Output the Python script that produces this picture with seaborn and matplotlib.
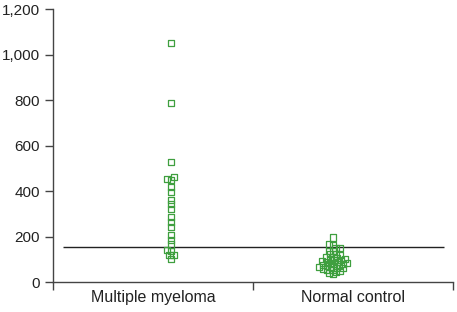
import numpy as np
import matplotlib
matplotlib.use("Agg")
import matplotlib.pyplot as plt
import seaborn as sns
import pandas as pd

# values
groups = ['Multiple myeloma', 'Normal control']
myeloma = [1050, 788, 529, 463, 452, 450, 418, 396, 360, 342, 320, 286, 265, 242,
           207, 186, 165, 140, 138, 120, 118, 102]
normal = [196, 165, 162, 150, 148, 138, 135, 125, 122, 118, 112, 108, 105, 102, 100,
          97, 95, 92, 90, 88, 85, 82, 80, 78, 75, 72, 70, 68, 65, 62, 60, 58, 55,
          52, 48, 45, 40, 35]
cutoff = 156
yticks = [0, 200, 400, 600, 800, 1000, 1200]

df = pd.DataFrame({
    'group': [groups[0]] * len(myeloma) + [groups[1]] * len(normal),
    'value': myeloma + normal,
})
df['pos'] = df['group'].map({groups[0]: 0, groups[1]: 1})

sns.set_style("ticks")
plt.rcParams['font.family'] = ['Liberation Sans', 'DejaVu Sans']

fig = plt.figure(figsize=(4.57, 3.12), dpi=100)
ax = fig.add_axes([0.116, 0.096, 0.875, 0.875])

green = '#3f9f3f'
# swarm laid out with small markers so the squares overlap like the original
sns.swarmplot(data=df, x='pos', y='value', native_scale=True, marker='s', size=1.9,
              color=green, linewidth=0.9, ax=ax)

ax.hlines(cutoff, -0.667, 1.685, color='#222222', linewidth=1)

ax.set_xlim(-0.728, 1.741)
ax.set_ylim(0, 1200)
ax.set_yticks(yticks)
ax.set_yticklabels([f'{v:,}' for v in yticks])
ax.set_xticks([-0.728, 0.506, 1.741])
ax.set_xticklabels([])
ax.set_xticks([-0.111, 1.123], minor=True)
ax.set_xticklabels(groups, minor=True)
ax.tick_params(axis='x', which='minor', length=0, pad=6, labelsize=11.5, colors='#222222')
ax.tick_params(axis='x', which='major', length=6, width=1, color='#444444')
ax.tick_params(axis='y', length=6, width=1, color='#444444', labelsize=11,
               labelcolor='#222222')
ax.set_xlabel('')
ax.set_ylabel('')
for s in ['left', 'bottom']:
    ax.spines[s].set_color('#444444')
    ax.spines[s].set_linewidth(1)
sns.despine(ax=ax)

# fix the swarm positions, then enlarge the hollow squares
fig.canvas.draw()
for c in ax.collections:
    if 'draw' in c.__dict__:
        del c.draw
        c.set_sizes([4.4 ** 2])
        c.set_facecolor('none')
        c.set_edgecolor(green)

fig.savefig('out.png', dpi=100)
